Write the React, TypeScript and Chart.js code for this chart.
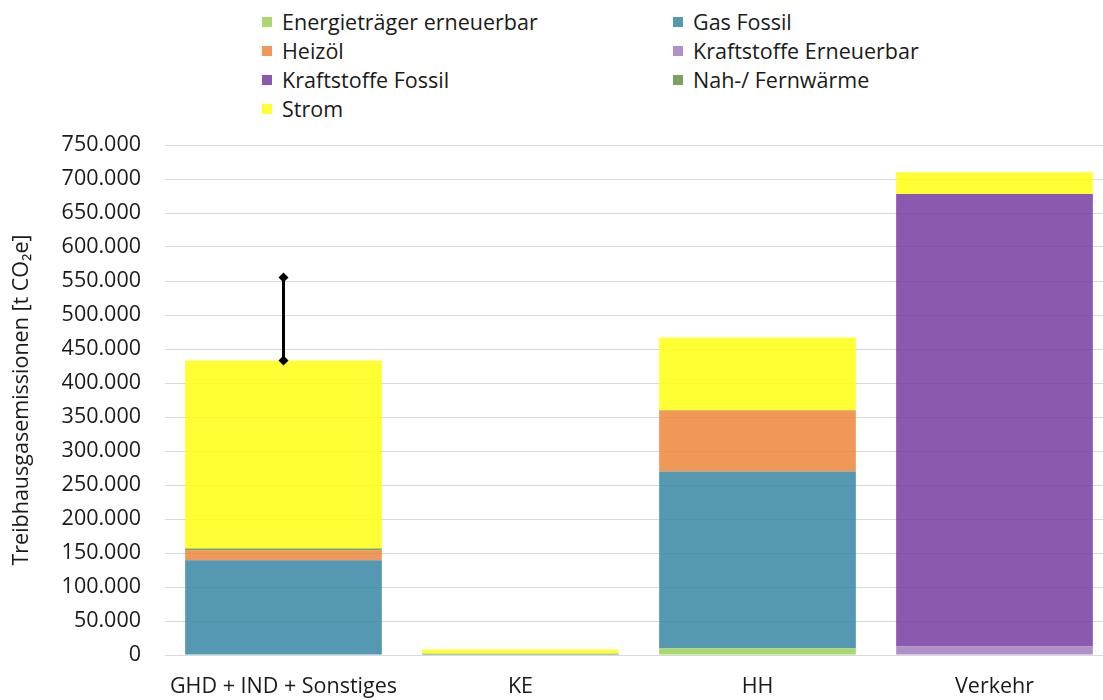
import React, { useEffect, useRef } from "react";
import { Chart, registerables } from "chart.js";

Chart.register(...registerables);

const categories = ["GHD + IND + Sonstiges", "KE", "HH", "Verkehr"];
const energietraegerErneuerbar = [0, 0, 10000, 0];
const gasFossil = [139500, 1500, 260000, 0];
const heizoel = [14500, 0, 90000, 0];
const kraftstoffeErneuerbar = [0, 0, 0, 13000];
const kraftstoffeFossil = [0, 0, 0, 665000];
const nahFernwaerme = [2500, 500, 0, 0];
const strom = [276500, 6000, 107000, 32000];
const errorLow = [433000, null, null, null];
const errorHigh = [555000, null, null, null];
const yMax = 750000;
const yStep = 50000;
const yTitle = "Treibhausgasemissionen [t CO₂e]";

const seriesNames = [
  "Energieträger erneuerbar",
  "Gas Fossil",
  "Heizöl",
  "Kraftstoffe Erneuerbar",
  "Kraftstoffe Fossil",
  "Nah-/ Fernwärme",
  "Strom",
];
const seriesValues = [
  energietraegerErneuerbar,
  gasFossil,
  heizoel,
  kraftstoffeErneuerbar,
  kraftstoffeFossil,
  nahFernwaerme,
  strom,
];
const seenColors = [
  [169, 216, 110],
  [85, 152, 178],
  [240, 152, 88],
  [175, 144, 200],
  [139, 89, 176],
  [119, 165, 90],
  [255, 255, 51],
];
const ALPHA = 0.85;
const fill = (c: number[]) =>
  `rgba(${c.map((v) => Math.max(0, Math.round((v - 255 * (1 - ALPHA)) / ALPHA))).join(",")},${ALPHA})`;
const solid = (c: number[]) => `rgb(${c.join(",")})`;

const FONT = "'Open Sans', sans-serif";
const FS = 21.5;

const fmt = (v: number) => String(Math.round(v)).replace(/\B(?=(\d{3})+(?!\d))/g, ".");

const errorBarPlugin = {
  id: "errorBars",
  afterDatasetsDraw(chart: any) {
    const { ctx, scales } = chart;
    const x = scales.x;
    const y = scales.y;
    ctx.save();
    ctx.strokeStyle = "#000";
    ctx.fillStyle = "#000";
    ctx.lineWidth = 3;
    for (let i = 0; i < categories.length; i++) {
      const lo = errorLow[i];
      const hi = errorHigh[i];
      if (lo == null || hi == null) continue;
      const px = x.getPixelForValue(i);
      const y1 = y.getPixelForValue(lo);
      const y2 = y.getPixelForValue(hi);
      ctx.beginPath();
      ctx.moveTo(px, y1);
      ctx.lineTo(px, y2);
      ctx.stroke();
      for (const py of [y1, y2]) {
        const r = 5;
        ctx.beginPath();
        ctx.moveTo(px, py - r);
        ctx.lineTo(px + r, py);
        ctx.lineTo(px, py + r);
        ctx.lineTo(px - r, py);
        ctx.closePath();
        ctx.fill();
      }
    }
    ctx.restore();
  },
};

function Legend() {
  const cols = [262, 673];
  const rows = [22, 51, 80, 109];
  return (
    <>
      {seriesNames.map((name, i) => {
        const left = cols[i % 2];
        const top = rows[Math.floor(i / 2)];
        return (
          <div
            key={name}
            style={{
              position: "absolute",
              left,
              top: top - 14,
              height: 28,
              lineHeight: "28px",
              display: "flex",
              alignItems: "center",
              whiteSpace: "nowrap",
              fontFamily: FONT,
              fontSize: FS,
              color: "#1a1a1a",
            }}
          >
            <span
              style={{
                display: "inline-block",
                width: 10,
                height: 10,
                background: solid(seenColors[i]),
                marginRight: 10,
              }}
            />
            {name}
          </div>
        );
      })}
    </>
  );
}

export default function App() {
  const ref = useRef<HTMLCanvasElement | null>(null);

  useEffect(() => {
    if (!ref.current) return;
    const chart = new Chart(ref.current, {
      type: "bar",
      data: {
        labels: categories,
        datasets: seriesNames.map((name, i) => ({
          label: name,
          data: seriesValues[i],
          backgroundColor: fill(seenColors[i]),
          borderWidth: 0,
          categoryPercentage: 1,
          barPercentage: 0.83,
        })),
      },
      options: {
        animation: false,
        responsive: false,
        devicePixelRatio: 1,
        layout: { padding: { top: 145, left: 0, right: 0, bottom: 0 } },
        plugins: {
          legend: { display: false },
          tooltip: { enabled: false },
        },
        scales: {
          x: {
            stacked: true,
            grid: { display: false, drawTicks: false },
            border: { display: false },
            ticks: {
              color: "#1a1a1a",
              padding: 19,
              font: { family: FONT, size: FS },
              maxRotation: 0,
            },
            afterFit: (s: any) => {
              s.height = 45;
            },
          },
          y: {
            stacked: true,
            min: 0,
            max: yMax,
            border: { display: false },
            grid: { color: "#d9d9d9", lineWidth: 1, drawTicks: false },
            ticks: {
              stepSize: yStep,
              color: "#1a1a1a",
              padding: 24,
              font: { family: FONT, size: FS },
              callback: (v: any) => fmt(Number(v)),
            },
            title: {
              display: true,
              text: yTitle,
              color: "#1a1a1a",
              font: { family: FONT, size: FS },
              padding: { top: 9, bottom: 0 },
            },
            afterFit: (s: any) => {
              s.width = 165;
            },
          },
        },
      },
      plugins: [errorBarPlugin],
    });
    return () => chart.destroy();
  }, []);

  return (
    <div
      style={{
        position: "fixed",
        left: 0,
        top: 0,
        width: 1103,
        height: 700,
        overflow: "hidden",
        background: "#fff",
      }}
    >
      <Legend />
      <canvas
        ref={ref}
        width={1113}
        height={700}
        style={{ position: "absolute", left: 0, top: 0, width: 1113, height: 700 }}
      />
    </div>
  );
}
